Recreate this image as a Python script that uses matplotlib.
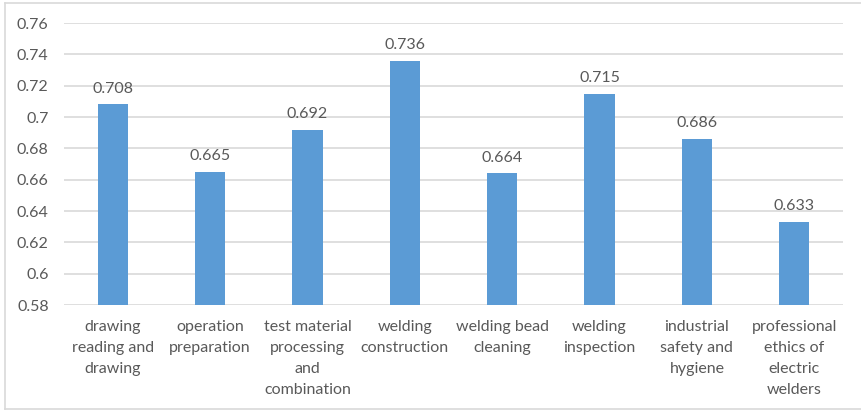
import matplotlib
matplotlib.use("Agg")
import matplotlib.pyplot as plt
from matplotlib.lines import Line2D

categories = ["drawing\nreading and\ndrawing", "operation\npreparation",
              "test material\nprocessing\nand\ncombination", "welding\nconstruction",
              "welding bead\ncleaning", "welding\ninspection",
              "industrial\nsafety and\nhygiene", "professional\nethics of\nelectric\nwelders"]
values = [0.708, 0.665, 0.692, 0.736, 0.664, 0.715, 0.686, 0.633]
yticks = [0.58, 0.6, 0.62, 0.64, 0.66, 0.68, 0.7, 0.72, 0.74, 0.76]
ytick_labels = ["0.58", "0.6", "0.62", "0.64", "0.66", "0.68", "0.7", "0.72", "0.74", "0.76"]

W, H = 861, 411
fig = plt.figure(figsize=(W/100, H/100), dpi=100)
plt.rcParams['font.family'] = ['Lato', 'DejaVu Sans']
txt = '#595959'
fs = 11.5

ax = fig.add_axes([64/W, 1-305/H, (843-64)/W, (305-23)/H])
x = list(range(len(categories)))
ax.bar(x, values, width=0.31, color='#5B9BD5', zorder=3)
for xi, v in zip(x, values):
    ax.text(xi, v + 0.0055, f"{v:.3f}", ha='center', va='bottom', fontsize=fs, color=txt)
ax.set_xlim(-0.5, len(categories)-0.5)
ax.set_ylim(0.58, 0.76)
ax.set_yticks(yticks)
ax.set_yticklabels(ytick_labels, fontsize=fs, color=txt)
ax.set_xticks(x)
ax.set_xticklabels(categories, fontsize=fs, color=txt, linespacing=1.62, va='top')
ax.tick_params(axis='both', length=0)
ax.tick_params(axis='y', pad=11)
ax.tick_params(axis='x', pad=11)
ax.grid(axis='y', color='#D9D9D9', linewidth=1.2, zorder=0)
for s in ax.spines.values():
    s.set_visible(False)

# outer chart border
bc = '#D9D9D9'
fig.add_artist(Line2D([5/W, 5/W], [1-3/H, 1-409/H], color=bc, lw=1.2, transform=fig.transFigure))
fig.add_artist(Line2D([5/W, 1], [1-3/H, 1-3/H], color=bc, lw=1.2, transform=fig.transFigure))
fig.add_artist(Line2D([5/W, 1], [1-409/H, 1-409/H], color=bc, lw=1.2, transform=fig.transFigure))

fig.savefig("out.png", dpi=100)
